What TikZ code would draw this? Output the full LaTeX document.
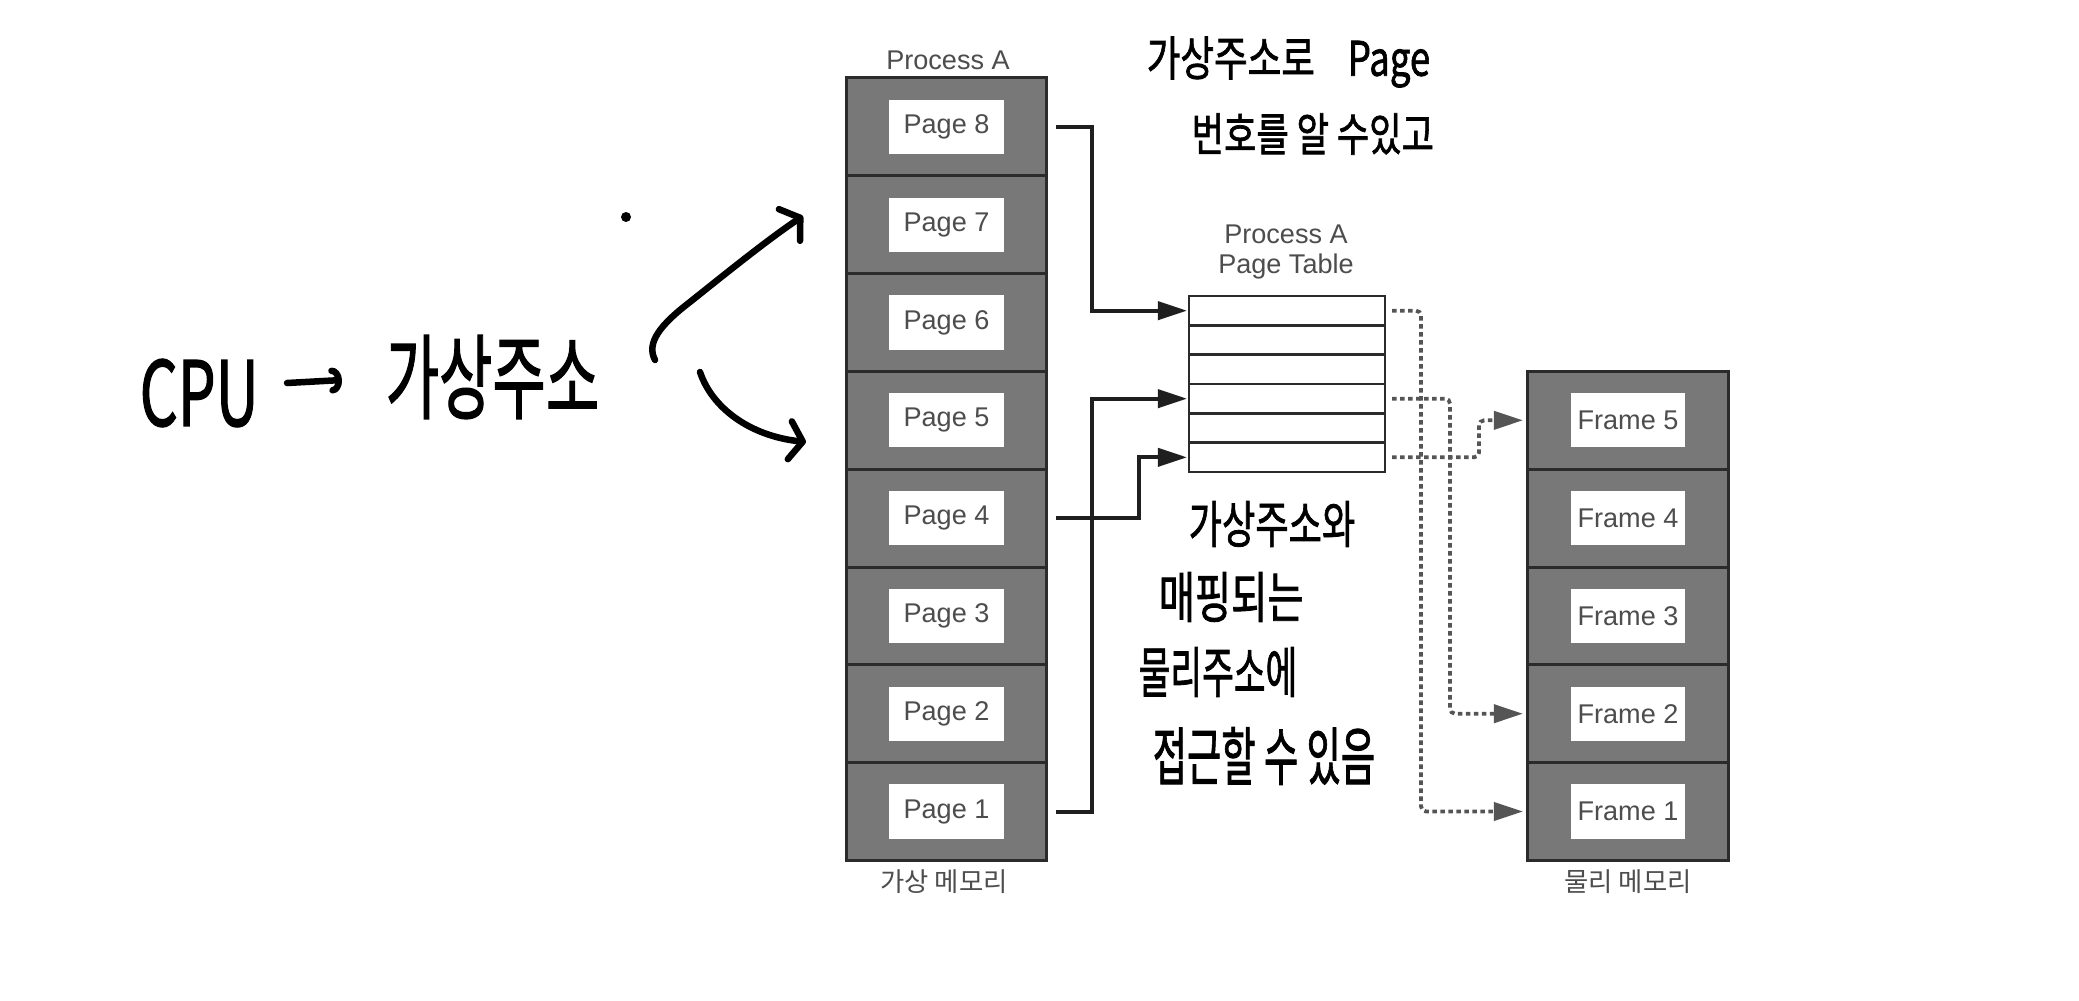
\documentclass[tikz,border=0pt]{standalone}
\usepackage{fontspec}
\usepackage{graphicx}
\setmainfont{Liberation Sans}
\newfontfamily\kr{Noto Sans CJK KR}
\newfontfamily\krh{Noto Sans CJK KR}[FakeBold=1.6]
\usetikzlibrary{arrows.meta}

\definecolor{blockgray}{HTML}{787878}
\definecolor{edgegray}{HTML}{2B2B2B}
\definecolor{labgray}{HTML}{4D4D4D}
\definecolor{dotgray}{HTML}{555555}

\newcommand\hwtext[2]{\scalebox{1}[#1]{#2}}

\begin{document}
\begin{tikzpicture}[x=0.01cm,y=-0.01cm,
  cellbox/.style={draw=edgegray, line width=0.03cm, fill=blockgray,
    minimum width=1.99cm, minimum height=0.978cm, inner sep=0, outer sep=0},
  framebox/.style={cellbox, minimum width=2.0cm},
  labbox/.style={fill=white, minimum width=1.14cm, minimum height=0.54cm,
    inner sep=0, font=\fontsize{7.7}{9}\selectfont, text=labgray},
  rowbox/.style={draw=edgegray, line width=0.025cm, fill=white,
    minimum width=1.96cm, minimum height=0.2933cm, inner sep=0, outer sep=0},
  caption/.style={inner sep=0, text=labgray, font=\fontsize{7.7}{8.6}\selectfont, align=center},
  krcaption/.style={inner sep=0, text=labgray, font=\kr\fontsize{7.5}{9}\selectfont},
  solidarr/.style={draw=black!88, line width=0.04cm,
    -{Triangle[length=0.29cm,width=0.18cm]}, shorten >=0.02cm},
  dotarr/.style={draw=dotgray, line width=0.038cm, dash pattern=on 0.045cm off 0.035cm,
    rounded corners=0.05cm, -{Triangle[length=0.29cm,width=0.18cm,fill=dotgray]},
    shorten >=0.05cm},
  hw/.style={anchor=west, inner sep=0, text=black},
  hand/.style={draw=black, line width=0.065cm, line cap=round, line join=round},
  handbarb/.style={-{Straight Barb[length=0.13cm,width=0.38cm,round]}},
  cpubarb/.style={-{Arc Barb[length=0.1cm,width=0.26cm,round]}}
]
\fill[white] (0,0) rectangle (2079,1000);
\useasboundingbox (0,0) rectangle (2079,1000);

% virtual memory pages
\foreach \k in {1,...,8} {
  \pgfmathsetmacro\cy{78+(8-\k)*97.8+48.9}
  \node[cellbox] (p\k) at (946.5,\cy) {};
  \node[labbox] (pl\k) at (p\k) {Page \k};
}
\node[caption] (pa) at (948,60) {Process A};
\node[krcaption] (vmlab) at (944,882) {가상 메모리};

% page table
\foreach \k in {1,...,6} {
  \pgfmathsetmacro\cy{296+(\k-0.5)*29.333}
  \node[rowbox] (r\k) at (1287,\cy) {};
}
\node[caption] (ptlab) at (1286,252) {Process A\\Page Table};

% physical memory frames
\foreach \k in {1,...,5} {
  \pgfmathsetmacro\cy{371.4+(5-\k)*97.8+48.9}
  \node[framebox] (f\k) at (1628,\cy) {};
  \node[labbox] (fl\k) at (f\k) {Frame \k};
}
\node[krcaption] (pmlab) at (1628,882) {물리 메모리};

% solid connectors page -> table
\draw[solidarr] ([xshift=0.1cm]p8.east) -- ++(36,0) |- (r1.west);
\draw[solidarr] ([xshift=0.1cm]p1.east) -- ++(36,0) |- (r4.west);
\draw[solidarr] ([xshift=0.1cm]p4.east) -- ++(83,0) |- (r6.west);

% dotted connectors table -> frame
\draw[dotarr] ([xshift=0.07cm]r1.east) -- ++(29,0) |- (f1.west);
\draw[dotarr] ([xshift=0.07cm]r4.east) -- ++(58,0) |- (f2.west);
\draw[dotarr] ([xshift=0.07cm]r6.east) -- ++(87,0) |- (f5.west);

% handwritten notes
\node[hw, font=\krh\fontsize{10.4}{12}\selectfont] (n1) at (1146,62)
  {\hwtext{1.3}{가상주소로\hspace{0.9em}Page}};
\node[hw, font=\krh\fontsize{10}{12}\selectfont] (n2) at (1191,134)
  {\hwtext{1.3}{번호를 알 수있고}};

\node[hw, font=\krh\fontsize{10.3}{12}\selectfont] (m1) at (1188,524)
  {\hwtext{1.4}{가상주소와}};
\node[hw, font=\krh\fontsize{11.2}{12}\selectfont] (m2) at (1158,597)
  {\hwtext{1.4}{매핑되는}};
\node[hw, font=\krh\fontsize{9.8}{12}\selectfont] (m3) at (1138,672)
  {\hwtext{1.6}{물리주소에}};
\node[hw, font=\krh\fontsize{10.6}{12}\selectfont] (m4) at (1152,756)
  {\hwtext{1.7}{접근할 수 있음}};

\node[hw, font=\krh\fontsize{17}{20}\selectfont] (cpu) at (139,393)
  {\hwtext{1.5}{CPU}};
\node[hw, font=\krh\fontsize{16.5}{20}\selectfont] (va) at (385,377)
  {\hwtext{1.6}{가상주소}};

\coordinate (a0) at (287,383);
\coordinate (a1) at (342,380);
\draw[hand, cpubarb] (a0) -- (a1);

\coordinate (u0) at (655,360);
\coordinate (u1) at (803,216);
\draw[hand, handbarb] (u0) .. controls (646,343) and (660,325) .. (690,302)
  .. controls (730,270) and (770,238) .. (u1);

\coordinate (l0) at (700,372);
\coordinate (l1) at (806,442);
\draw[hand, handbarb] (l0) .. controls (712,408) and (750,436) .. (l1);

\coordinate (dot) at (626,217);
\fill[black] (dot) circle (5);
\end{tikzpicture}
\end{document}
